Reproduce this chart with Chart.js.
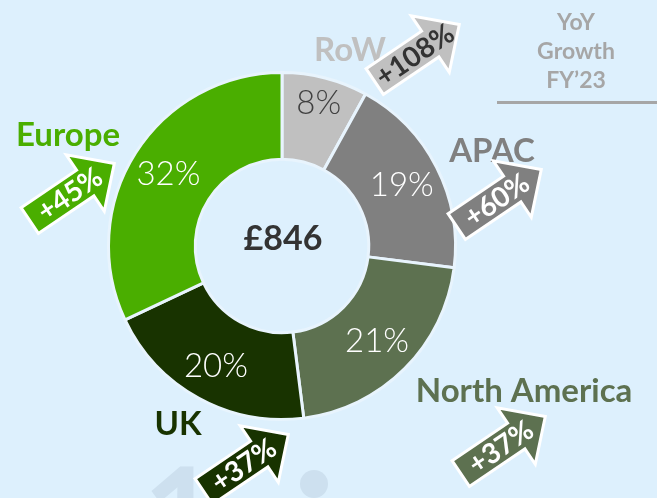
<!DOCTYPE html>
<html>
<head>
<meta charset="utf-8">
<script src="https://cdn.jsdelivr.net/npm/chart.js@4.4.0/dist/chart.umd.min.js"></script>
<style>
  html, body { margin: 0; padding: 0; background: #ddf0fd; }
  #wrap { width: 657px; height: 498px; position: relative; }
</style>
</head>
<body>
<div id="wrap"><canvas id="regionChart"></canvas></div>
<script>
const regions = ['RoW', 'APAC', 'North America', 'UK', 'Europe'];
const shares = [8, 19, 21, 20, 32];
const growth = [108, 60, 37, 37, 45];
const totalLabel = '£846';
const titleLines = ['YoY', 'Growth', 'FY\u201923'];
const colors = ['#c0c0c0', '#808080', '#5d7150', '#183300', '#4aae00'];

// where the region names and growth arrows sit (annotation layout)
const nameSpots = [[350, 50], [492, 151], [524, 391], [178, 424], [68, 135]];
const arrowSpots = [[417, 53], [499, 198], [503, 445], [246, 463], [72, 192]];
const labelDepth = [0.7, 0.55, 0.55, 0.58, 0.55];

function drawArrow(ctx, cx, cy, fill, text, textColor) {
  const L = 102, head = 35, hw = 34, bw = 15.5;
  ctx.save();
  ctx.translate(cx, cy);
  ctx.rotate(-34 * Math.PI / 180);
  ctx.beginPath();
  ctx.moveTo(-L / 2, -bw);
  ctx.lineTo(L / 2 - head, -bw);
  ctx.lineTo(L / 2 - head, -hw);
  ctx.lineTo(L / 2, 0);
  ctx.lineTo(L / 2 - head, hw);
  ctx.lineTo(L / 2 - head, bw);
  ctx.lineTo(-L / 2, bw);
  ctx.closePath();
  ctx.fillStyle = fill;
  ctx.fill();
  ctx.lineWidth = 3;
  ctx.strokeStyle = '#ffffff';
  ctx.lineJoin = 'miter';
  ctx.stroke();
  ctx.fillStyle = textColor;
  ctx.font = 'bold 28px Lato';
  ctx.textAlign = 'center';
  ctx.textBaseline = 'middle';
  ctx.fillText(text, -3, 1);
  ctx.restore();
}

const backdrop = {
  id: 'backdrop',
  beforeDraw(chart) {
    const ctx = chart.ctx;
    ctx.save();
    ctx.fillStyle = '#ddf0fd';
    ctx.fillRect(0, 0, chart.width, chart.height);
    // faint watermark peeking in at the bottom
    ctx.fillStyle = '#cde0ef';
    ctx.font = 'bold 130px Lato';
    ctx.textBaseline = 'top';
    ctx.textAlign = 'left';
    ctx.fillText('1', 143, 454);
    ctx.beginPath();
    ctx.arc(314, 484, 14, 0, Math.PI * 2);
    ctx.fill();
    ctx.restore();
  }
};

const annotations = {
  id: 'annotations',
  afterDatasetsDraw(chart) {
    const ctx = chart.ctx;
    const meta = chart.getDatasetMeta(0);
    ctx.save();
    ctx.textAlign = 'center';
    ctx.textBaseline = 'middle';

    // percentages inside the ring
    ctx.font = '300 33px Lato';
    meta.data.forEach((arc, i) => {
      const mid = (arc.startAngle + arc.endAngle) / 2;
      const r = arc.innerRadius + (arc.outerRadius - arc.innerRadius) * labelDepth[i];
      ctx.fillStyle = i === 0 ? '#404040' : '#ffffff';
      ctx.fillText(shares[i] + '%', arc.x + r * Math.cos(mid), arc.y + r * Math.sin(mid));
    });

    // total in the hole
    const first = meta.data[0];
    ctx.font = 'bold 34px Lato';
    ctx.fillStyle = '#333333';
    ctx.fillText(totalLabel, first.x + 1, first.y - 7);

    // region names
    ctx.font = 'bold 33px Lato';
    regions.forEach((name, i) => {
      ctx.fillStyle = colors[i];
      ctx.fillText(name, nameSpots[i][0], nameSpots[i][1]);
    });

    // header, top right
    ctx.font = 'bold 23px Lato';
    ctx.fillStyle = '#a6a6a6';
    titleLines.forEach((t, i) => ctx.fillText(t, 576, 23 + i * 29));
    ctx.fillRect(497, 101, 160, 3);

    // growth arrows
    growth.forEach((g, i) => {
      drawArrow(ctx, arrowSpots[i][0], arrowSpots[i][1], colors[i], '+' + g + '%', i === 0 ? '#333333' : '#ffffff');
    });
    ctx.restore();
  }
};

new Chart(document.getElementById('regionChart'), {
  type: 'doughnut',
  data: {
    labels: regions,
    datasets: [{
      data: shares,
      backgroundColor: colors,
      borderColor: '#e8f4fd',
      borderWidth: 3,
      hoverOffset: 0
    }]
  },
  options: {
    responsive: true,
    maintainAspectRatio: false,
    animation: false,
    cutout: '50%',
    layout: { padding: { left: 107, right: 200, top: 71, bottom: 77 } },
    plugins: {
      legend: { display: false },
      tooltip: { enabled: false }
    }
  },
  plugins: [backdrop, annotations]
});
</script>
</body>
</html>
